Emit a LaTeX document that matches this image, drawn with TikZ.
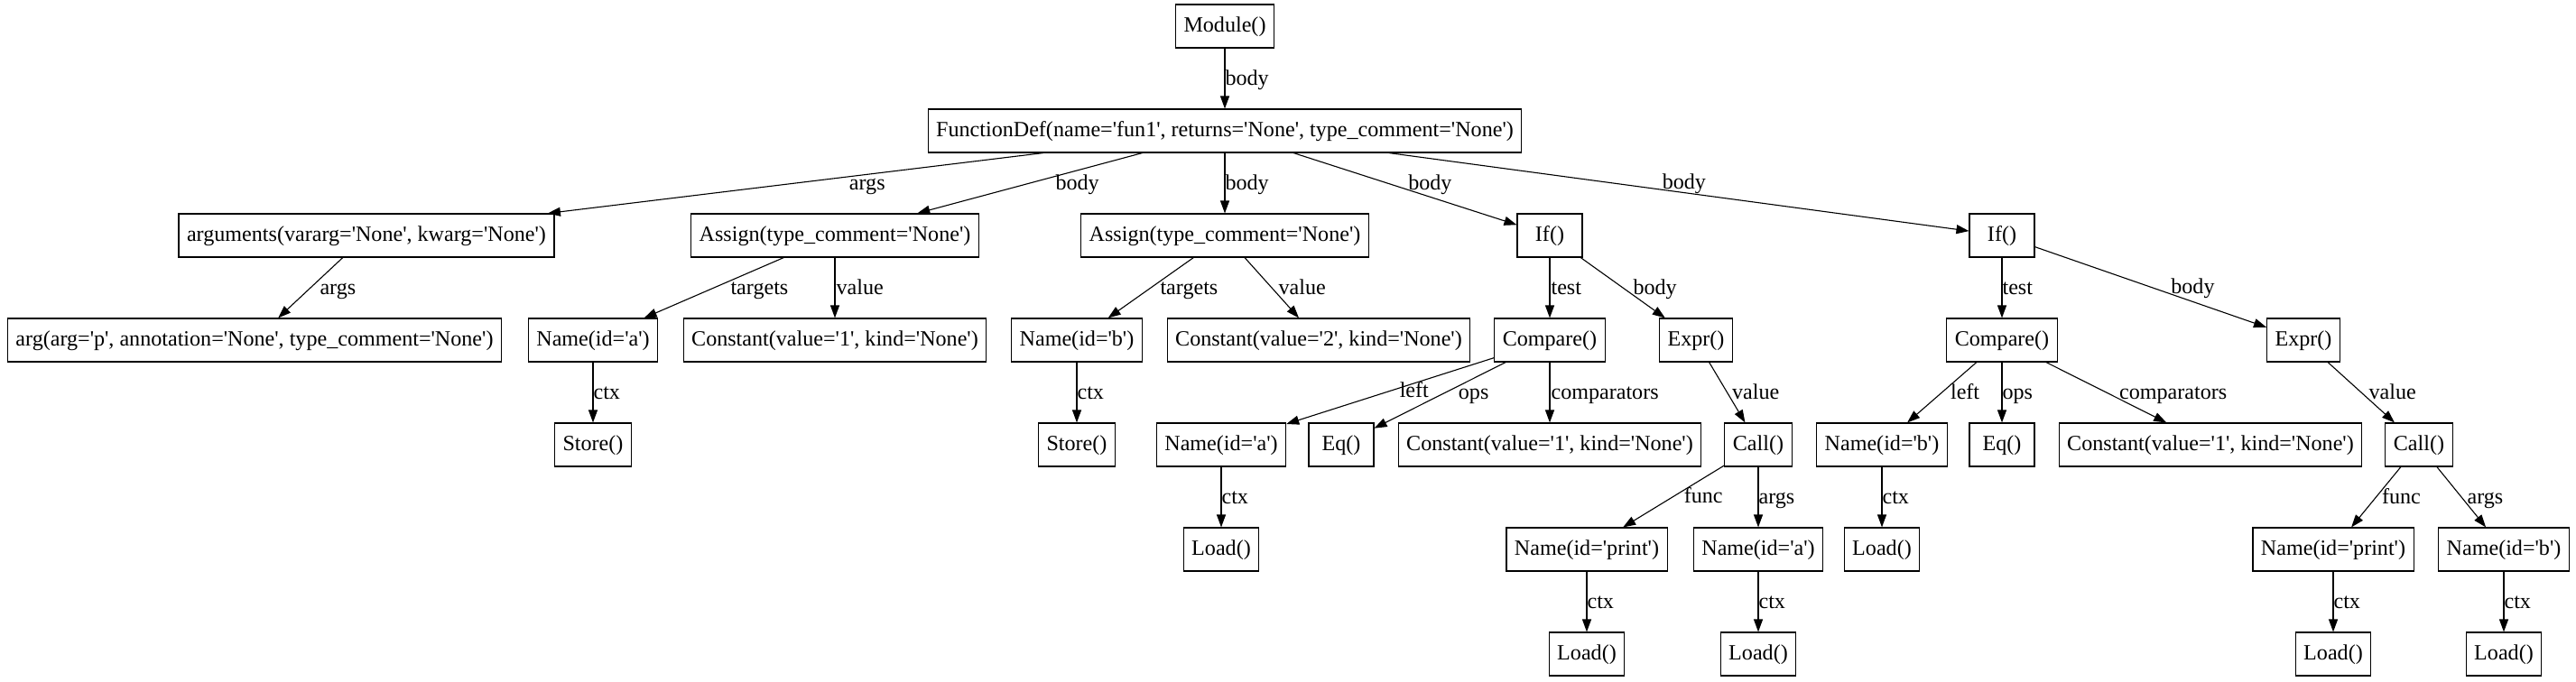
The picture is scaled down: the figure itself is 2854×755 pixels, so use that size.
\documentclass[tikz,border=0pt]{standalone}
\usepackage{fontspec}
\setmainfont{Liberation Serif}
\usetikzlibrary{arrows.meta}
\newcommand{\sq}{\textquotesingle}

\begin{document}
\begin{tikzpicture}[x=1pt, y=-1pt,
	font=\fontsize{24.1}{29}\selectfont,
	line width=1.1pt,
	ast/.style={draw, minimum width=72pt, minimum height=48pt, inner xsep=9pt, inner ysep=0pt,
		text height=17pt, text depth=5pt},
	edge/.style={-{Triangle[length=14pt, width=10pt]}},
	lbl/.style={anchor=west, inner sep=0pt, text height=19pt, text depth=5pt}]
	\useasboundingbox (0,0) rectangle (2854,755);
	
	% level 0 and 1
	\node[ast] (mod) at (1357,29) {Module()};
	\node[ast] (fdef) at (1357,145) {FunctionDef(name=\sq fun1\sq, returns=\sq None\sq, type\_comment=\sq None\sq)};
	
	% level 2
	\node[ast] (argsn) at (406,261) {arguments(vararg=\sq None\sq, kwarg=\sq None\sq)};
	\node[ast] (asg1) at (925,261) {Assign(type\_comment=\sq None\sq)};
	\node[ast] (asg2) at (1357,261) {Assign(type\_comment=\sq None\sq)};
	\node[ast] (if1) at (1717,261) {If()};
	\node[ast] (if2) at (2218,261) {If()};
	
	% level 3
	\node[ast] (arg) at (282,377) {arg(arg=\sq p\sq, annotation=\sq None\sq, type\_comment=\sq None\sq)};
	\node[ast] (nma) at (657,377) {Name(id=\sq a\sq)};
	\node[ast] (cst1) at (925,377) {Constant(value=\sq 1\sq, kind=\sq None\sq)};
	\node[ast] (nmb) at (1193,377) {Name(id=\sq b\sq)};
	\node[ast] (cst2) at (1461,377) {Constant(value=\sq 2\sq, kind=\sq None\sq)};
	\node[ast] (cmp1) at (1717,377) {Compare()};
	\node[ast] (expr1) at (1879,377) {Expr()};
	\node[ast] (cmp2) at (2218,377) {Compare()};
	\node[ast] (expr2) at (2552,377) {Expr()};
	
	% level 4
	\node[ast] (store1) at (657,493) {Store()};
	\node[ast] (store2) at (1193,493) {Store()};
	\node[ast] (lnma) at (1353,493) {Name(id=\sq a\sq)};
	\node[ast] (eq1) at (1486,493) {Eq()};
	\node[ast] (cst3) at (1717,493) {Constant(value=\sq 1\sq, kind=\sq None\sq)};
	\node[ast] (call1) at (1948,493) {Call()};
	\node[ast] (lnmb) at (2085,493) {Name(id=\sq b\sq)};
	\node[ast] (eq2) at (2218,493) {Eq()};
	\node[ast] (cst4) at (2449,493) {Constant(value=\sq 1\sq, kind=\sq None\sq)};
	\node[ast] (call2) at (2680,493) {Call()};
	
	% level 5
	\node[ast] (load1) at (1353,609) {Load()};
	\node[ast] (prt1) at (1758,609) {Name(id=\sq print\sq)};
	\node[ast] (cnma) at (1948,609) {Name(id=\sq a\sq)};
	\node[ast] (load2) at (2085,609) {Load()};
	\node[ast] (prt2) at (2585,609) {Name(id=\sq print\sq)};
	\node[ast] (cnmb) at (2774,609) {Name(id=\sq b\sq)};
	
	% level 6
	\node[ast] (load3) at (1758,725) {Load()};
	\node[ast] (load4) at (1948,725) {Load()};
	\node[ast] (load5) at (2585,725) {Load()};
	\node[ast] (load6) at (2774,725) {Load()};
	
	% edges
	\draw[edge] (mod) -- node[lbl] {body} (fdef);
	\draw[edge] (fdef) -- node[lbl, xshift=59pt] {args} (argsn);
	\draw[edge] (fdef) -- node[lbl, xshift=28pt] {body} (asg1);
	\draw[edge] (fdef) -- node[lbl] {body} (asg2);
	\draw[edge] (fdef) -- node[lbl, xshift=3pt, yshift=6pt] {body} (if1);
	\draw[edge] (fdef) -- node[lbl, xshift=-19pt, yshift=10pt] {body} (if2);
	
	\draw[edge] (argsn) -- node[lbl, xshift=10pt] {args} (arg);
	\draw[edge] (asg1) -- node[lbl, xshift=18pt] {targets} (nma);
	\draw[edge] (asg1) -- node[lbl, xshift=1pt] {value} (cst1);
	\draw[edge] (asg2) -- node[lbl, xshift=10pt] {targets} (nmb);
	\draw[edge] (asg2) -- node[lbl, xshift=7pt] {value} (cst2);
	\draw[edge] (if1) -- node[lbl, xshift=1pt] {test} (cmp1);
	\draw[edge] (if1) -- node[lbl, xshift=11pt] {body} (expr1);
	\draw[edge] (if2) -- node[lbl] {test} (cmp2);
	\draw[edge] (if2) -- node[lbl, xshift=22pt] {body} (expr2);
	
	\draw[edge] (nma) -- node[lbl] {ctx} (store1);
	\draw[edge] (nmb) -- node[lbl] {ctx} (store2);
	\draw[edge] (cmp1) -- node[lbl, xshift=10pt] {left} (lnma);
	\draw[edge] (cmp1) -- node[lbl, xshift=20pt, yshift=3pt] {ops} (eq1);
	\draw[edge] (cmp1) -- node[lbl, xshift=1pt] {comparators} (cst3);
	\draw[edge] (expr1) -- node[lbl, xshift=5pt] {value} (call1);
	\draw[edge] (cmp2) -- node[lbl, xshift=9pt] {left} (lnmb);
	\draw[edge] (cmp2) -- node[lbl] {ops} (eq2);
	\draw[edge] (cmp2) -- node[lbl, xshift=14pt] {comparators} (cst4);
	\draw[edge] (expr2) -- node[lbl, xshift=8pt] {value} (call2);
	
	\draw[edge] (lnma) -- node[lbl] {ctx} (load1);
	\draw[edge] (call1) -- node[lbl, xshift=11pt] {func} (prt1);
	\draw[edge] (call1) -- node[lbl] {args} (cnma);
	\draw[edge] (lnmb) -- node[lbl] {ctx} (load2);
	\draw[edge] (call2) -- node[lbl, xshift=6pt] {func} (prt2);
	\draw[edge] (call2) -- node[lbl, xshift=6pt] {args} (cnmb);
	
	\draw[edge] (prt1) -- node[lbl] {ctx} (load3);
	\draw[edge] (cnma) -- node[lbl] {ctx} (load4);
	\draw[edge] (prt2) -- node[lbl] {ctx} (load5);
	\draw[edge] (cnmb) -- node[lbl] {ctx} (load6);
	
\end{tikzpicture}
\end{document}
